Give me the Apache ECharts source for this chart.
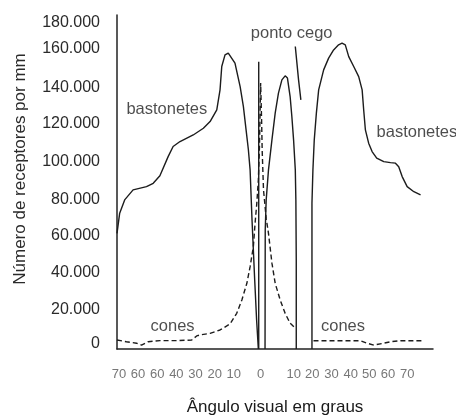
<!DOCTYPE html>
<html>
<head>
<meta charset="utf-8">
<script src="https://cdn.jsdelivr.net/npm/echarts@6/dist/echarts.min.js"></script>
<style>
  html, body { margin: 0; padding: 0; background: #fff; }
  #chart { width: 456px; height: 415px; }
</style>
</head>
<body>
<div id="chart"></div>
<script>
// eixo x: posição das marcas e o texto delas (o original repete "60")
const xTickPos = [-74, -64, -54, -44, -34, -24, -14, 0, 17.3, 27, 37, 47, 56.7, 66.5, 76.5]
const xTickLabels = ["70", "60", "60", "40", "30", "20", "10", "0", "10", "20", "30", "40", "50", "60", "70"]

const yTickPos = [2700, 20900, 40900, 60800, 80300, 100600, 121000, 140300, 161000, 175000]
const yTickLabels = ["0", "20.000", "40.000", "60.000", "80.000", "100.000", "120.000", "140.000", "160.000", "180.000"]

// bastonetes (linha cheia)
const rodLeftX = [-75, -73.6, -71, -66.6, -59.6, -56.1, -52.6, -48.3, -45.7, -42.1, -35.2, -29.9, -26.4, -22.9, -21.2, -20.3, -18.6, -16.9, -13.4, -10.7, -9.0, -7.6, -6.4, -5.5, -4.5, -3.1, -2.1, -1.2]
const rodLeftY = [62000, 72800, 79900, 85300, 87000, 88800, 92800, 103100, 108500, 111200, 114700, 118300, 121900, 128200, 138900, 151400, 157600, 158600, 153200, 140600, 129900, 117400, 106800, 96000, 69200, 37000, 15500, 0]

const foveaX = [-1.0, -1.0]
const foveaY = [0, 153900]

const rodMidX = [2.3, 2.4, 2.9, 4.1, 5.9, 7.6, 9.3, 11.1, 12.8, 14.0, 15.4, 16.3, 17.2, 18.1, 18.4, 18.6, 18.6]
const rodMidY = [0, 63800, 79900, 96000, 112100, 126400, 137100, 144200, 146400, 145200, 135300, 124600, 112100, 96000, 79900, 47700, 0]

const rodCutX = [18.1, 19.8, 21.0]
const rodCutY = [162100, 144200, 133500]

const rodRightX = [26.8, 26.8, 27.3, 28.0, 29.1, 30.3, 32.9, 35.5, 38.1, 40.7, 42.5, 44.2, 46.0, 48.6, 51.2, 53.0, 53.8, 54.7, 56.4, 58.2, 60.6, 64.3, 67.8, 70.4, 72.1, 73.9, 76.5, 80.0, 83.5]
const rodRightY = [0, 78100, 96000, 112100, 126400, 138900, 149600, 155900, 160300, 163000, 163900, 163000, 156700, 151400, 146000, 138900, 128200, 117400, 110300, 105800, 102300, 100400, 99900, 99600, 97700, 92400, 87000, 84300, 82600]

// cones (tracejado)
const coneLeftX = [-75, -70.1, -64.8, -62.2, -58.7, -52.6, -43.9, -36.0, -33.4, -31.7, -26.4, -21.2, -16.0, -12.5, -9.8, -7.2, -5.5, -3.8, -2.9, -2.0, -1.2, -0.6, -0.3, 0, 0.5, 0.8, 1.5, 2.9, 4.1, 5.9, 7.6, 10.2, 12.8, 15.4, 18.1]
const coneLeftY = [4800, 3900, 3100, 2100, 3900, 4500, 4500, 4800, 7000, 7500, 8400, 10200, 13400, 19100, 26300, 35200, 44100, 54900, 67400, 78100, 90600, 108500, 126500, 142600, 122800, 106700, 85300, 70000, 62000, 46000, 35200, 26300, 19100, 13800, 11100]

const coneRightX = [27.6, 36.4, 52.1, 55.6, 59.1, 64.3, 67.8, 73.0, 85.2]
const coneRightY = [4450, 4450, 4450, 3100, 2100, 3100, 3900, 4450, 4450]

const annoText = ["bastonetes", "bastonetes", "ponto cego", "cones", "cones"]
const annoX = [-49.0, 81.6, 16.2, -46.0, 43.0]
const annoY = [128200, 115800, 168900, 12000, 12000]

const FONT = "Liberation Sans, Arial, sans-serif"

function pairs(xs, ys) {
  return xs.map((x, i) => [x, ys[i]])
}

function lineSeries(xs, ys, dashed) {
  return {
    type: "line",
    data: pairs(xs, ys),
    showSymbol: false,
    silent: true,
    clip: false,
    lineStyle: {
      color: "#1c1c1c",
      width: 1.4,
      type: dashed ? [5, 3] : "solid"
    }
  }
}

const chart = echarts.init(document.getElementById("chart"))

chart.setOption({
  animation: false,
  backgroundColor: "#fff",
  grid: { left: 117, right: 23, top: 15, bottom: 66, outerBoundsMode: "none" },
  xAxis: {
    type: "value",
    min: -75,
    max: 90,
    name: "Ângulo visual em graus",
    nameLocation: "middle",
    nameGap: 50,
    nameTextStyle: { fontFamily: FONT, fontSize: 17, color: "#1a1a1a" },
    axisLine: { show: true, onZero: false, lineStyle: { color: "#222", width: 1.5 } },
    axisTick: { show: false },
    splitLine: { show: false },
    axisLabel: {
      customValues: xTickPos,
      formatter: v => xTickLabels[xTickPos.indexOf(v)] ?? "",
      margin: 19,
      fontFamily: FONT,
      fontSize: 13,
      color: "#777"
    }
  },
  yAxis: {
    type: "value",
    min: 0,
    max: 179000,
    axisLine: { show: true, onZero: false, lineStyle: { color: "#222", width: 1.5 } },
    axisTick: { show: false },
    splitLine: { show: false },
    axisLabel: {
      customValues: yTickPos,
      formatter: v => yTickLabels[yTickPos.indexOf(v)] ?? "",
      margin: 17,
      fontFamily: FONT,
      fontSize: 16,
      color: "#2a2a2a"
    }
  },
  graphic: [
    {
      type: "text",
      x: 20,
      y: 169,
      rotation: Math.PI / 2,
      style: {
        text: "Número de receptores por mm",
        fontFamily: FONT,
        fontSize: 17,
        fill: "#2a2a2a",
        align: "center",
        verticalAlign: "middle"
      }
    }
  ],
  series: [
    lineSeries(rodLeftX, rodLeftY, false),
    lineSeries(foveaX, foveaY, false),
    lineSeries(rodMidX, rodMidY, false),
    lineSeries(rodCutX, rodCutY, false),
    lineSeries(rodRightX, rodRightY, false),
    lineSeries(coneLeftX, coneLeftY, true),
    lineSeries(coneRightX, coneRightY, true),
    {
      type: "scatter",
      symbolSize: 0,
      silent: true,
      data: annoX.map((x, i) => ({ value: [x, annoY[i]], name: annoText[i] })),
      label: {
        show: true,
        position: "inside",
        formatter: p => p.name,
        fontFamily: FONT,
        fontSize: 16.5,
        color: "#1f1f1f"
      }
    }
  ]
})
</script>
</body>
</html>
